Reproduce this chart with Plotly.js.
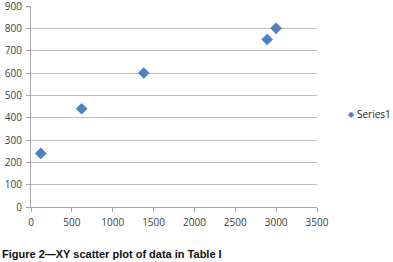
<!DOCTYPE html>
<html><head><meta charset="utf-8">
<script src="https://cdn.plot.ly/plotly-3.0.1.min.js"></script>
<style>html,body{margin:0;padding:0;background:#fff;}#chart{width:393px;height:262px;}</style>
</head><body><div id="chart"></div>
<script>
const seriesName = "Series1";
const xValues = [120, 620, 1380, 2890, 3000];
const yValues = [240, 440, 600, 750, 800];
const captionText = "Figure 2\u2014XY scatter plot of data in Table I";
const markerColor = "#4F81BD";

const trace = {
  type: "scatter", mode: "markers", name: seriesName,
  x: xValues, y: yValues, showlegend: false,
  marker: {symbol: "diamond", size: 9, color: markerColor, line: {width: 0}}
};
const W = 286, H = 201;
const layout = {
  width: 393, height: 262,
  margin: {l: 31, r: 76, t: 6, b: 55, autoexpand: false},
  paper_bgcolor: "#fff", plot_bgcolor: "#fff",
  font: {family: "Open Sans, Noto Sans, sans-serif", size: 10, color: "#404040"},
  showlegend: false,
  xaxis: {range: [0, 3500], dtick: 500, tick0: 0, showgrid: false, zeroline: false,
          showline: true, linecolor: "#a6a6a6", linewidth: 1, ticklabeloverflow: "allow",
          ticks: "outside", ticklen: 4, ticklabelstandoff: 2, tickcolor: "#a6a6a6", tickfont: {size: 10}},
  yaxis: {range: [0, 900], dtick: 100, tick0: 0, showgrid: true, gridcolor: "#bfbfbf", gridwidth: 1,
          zeroline: false, showline: true, linecolor: "#a6a6a6", linewidth: 1, ticklabeloverflow: "allow",
          ticks: "outside", ticklen: 4, ticklabelstandoff: 2, tickcolor: "#a6a6a6", tickfont: {size: 10}},
  annotations: [
    {text: "<b>" + captionText + "</b>", xref: "paper", yref: "paper",
     x: -31/W, y: -47/H, xanchor: "left", yanchor: "middle", showarrow: false,
     font: {family: "Liberation Sans Narrow, Arial Narrow, Liberation Sans, sans-serif", size: 11, color: "#111"}},
    {text: "\u25C6", xref: "paper", yref: "paper", x: (351-31)/W, y: (207-114)/H,
     xanchor: "center", yanchor: "middle", showarrow: false,
     font: {family: "DejaVu Sans, sans-serif", size: 8, color: markerColor}},
    {text: seriesName, xref: "paper", yref: "paper", x: (355-31)/W, y: (207-114)/H,
     xanchor: "left", yanchor: "middle", showarrow: false,
     font: {family: "Open Sans, Noto Sans, sans-serif", size: 10, color: "#222"}}
  ]
};
Plotly.newPlot("chart", [trace], layout, {staticPlot: true, displayModeBar: false});
</script></body></html>
